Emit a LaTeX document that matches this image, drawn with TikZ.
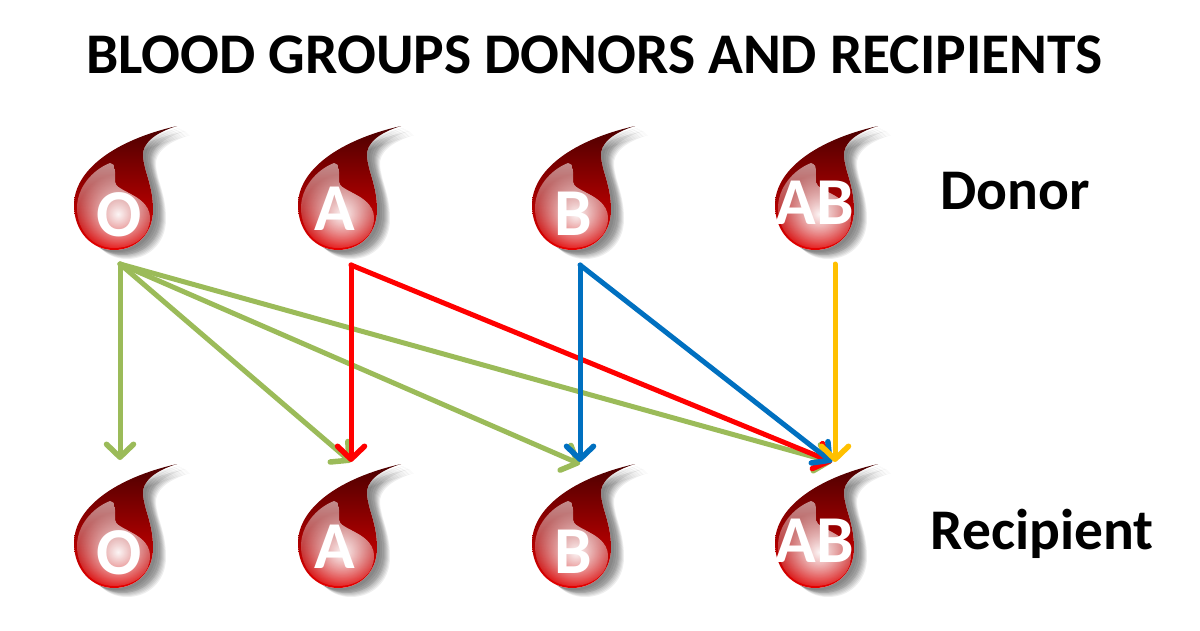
\documentclass[tikz,border=0pt]{standalone}
\usepackage{fontspec}
\setmainfont{Carlito}
\usetikzlibrary{arrows.meta,fadings}
\definecolor{cgreen}{HTML}{9BBB59}
\definecolor{cred}{HTML}{FF0000}
\definecolor{cblue}{HTML}{0070C0}
\definecolor{cyellow}{HTML}{FFC000}
\definecolor{droptop}{HTML}{4A0000}
\definecolor{dropmid}{HTML}{8E0000}
\definecolor{dropbot}{HTML}{E60000}
\tikzfading[name=glowfade,inner color=transparent!0,outer color=transparent!100]
\tikzfading[name=sheenfade,top color=transparent!45,bottom color=transparent!100]
\tikzset{
  dropoutline/.style={insert path={(177,126) .. controls (154,133) and (142,144) .. (143,156) .. controls (144,172) and (153,185) .. (153,210) .. controls (153,235) and (135,250) .. (114,250) .. controls (92,250) and (74,232) .. (74,205) .. controls (74,170) and (115,140) .. (177,126) -- cycle}},
  glossoutline/.style={insert path={(77,208) .. controls (77,188) and (92,170) .. (110,163) .. controls (116,163) and (115,172) .. (115,182) .. controls (116,192) and (150,195) .. (150,218) .. controls (150,238) and (132,248) .. (114,248) .. controls (92,248) and (77,230) .. (77,208) -- cycle}},
  letter/.style={font=\bfseries\fontsize{67}{67}\selectfont,text=white,inner sep=0pt},
  caption/.style={font=\bfseries\fontsize{57.5}{57.5}\selectfont,text=black,inner sep=0pt},
  titletext/.style={font=\bfseries\fontsize{57.5}{57.5}\selectfont,text=black,inner sep=0pt},
  link/.style={line width=5pt,line cap=round,-{Straight Barb[length=13pt,width=27pt,line width=5.5pt,round]}},
}
\newcommand{\blooddrop}[6]{%
  \begin{scope}[shift={(#1,#2)}]
    \foreach \dx/\dy in {3/2,5/3,7/4,8/5,9/5,10/6,11/7,12/8,13/9}{
      \fill[black,opacity=0.065,shift={(\dx,\dy)},dropoutline];
    }
    \fill[white,dropoutline];
    \shade[top color=droptop,middle color=dropmid,bottom color=dropbot,dropoutline];
    \begin{scope}
      \clip[glossoutline];
      \fill[white,path fading=sheenfade,glossoutline];
      \fill[white,opacity=0.95,path fading=glowfade] (118,214) circle (40);
    \end{scope}
    \node[letter] (#6) at (#4,#5) {#3};
  \end{scope}}
\begin{document}
\begin{tikzpicture}[x=1pt,y=-1pt]
\useasboundingbox (0,0) rectangle (1200,630);
\fill[white] (0,0) rectangle (1200,630);
\node[titletext] (title) at (594.5,55) {BLOOD GROUPS DONORS AND RECIPIENTS};
\node[caption] (donor) at (1015,191) {Donor};
\node[caption] (recipient) at (1042,534) {Recipient};
\blooddrop{0}{0}{O}{119}{215}{lo1}
\blooddrop{224}{0}{A}{111}{209}{la1}
\blooddrop{458}{0}{B}{115}{214}{lb1}
\blooddrop{701}{0}{AB}{114}{203}{lab1}
\coordinate (dO) at (120,264);
\coordinate (dA) at (351,265);
\coordinate (dB) at (580,265);
\coordinate (dAB) at (835,264);
\coordinate (rO) at (120,460);
\coordinate (rA) at (351,462);
\coordinate (rB) at (580,464);
\coordinate (rAB) at (832,462);
\coordinate (rABy) at (835,462);
\coordinate (rBb) at (580,462);
\begin{scope}[shift={(0,338)}]
\blooddrop{0}{0}{O}{119}{215}{lo2}
\blooddrop{224}{0}{A}{111}{209}{la2}
\blooddrop{458}{0}{B}{115}{214}{lb2}
\blooddrop{701}{0}{AB}{114}{203}{lab2}
\end{scope}
\draw[link,cgreen] (dO) -- (rO);
\draw[link,cgreen] (dO) -- (rA);
\draw[link,cgreen] (dO) -- (rB);
\draw[link,cgreen] (dO) -- (rAB);
\draw[link,cred] (dA) -- (rA);
\draw[link,cred] (dA) -- (rAB);
\draw[link,cblue] (dB) -- (rBb);
\draw[link,cblue] (dB) -- (rAB);
\draw[link,cyellow] (dAB) -- (rABy);
\end{tikzpicture}
\end{document}
